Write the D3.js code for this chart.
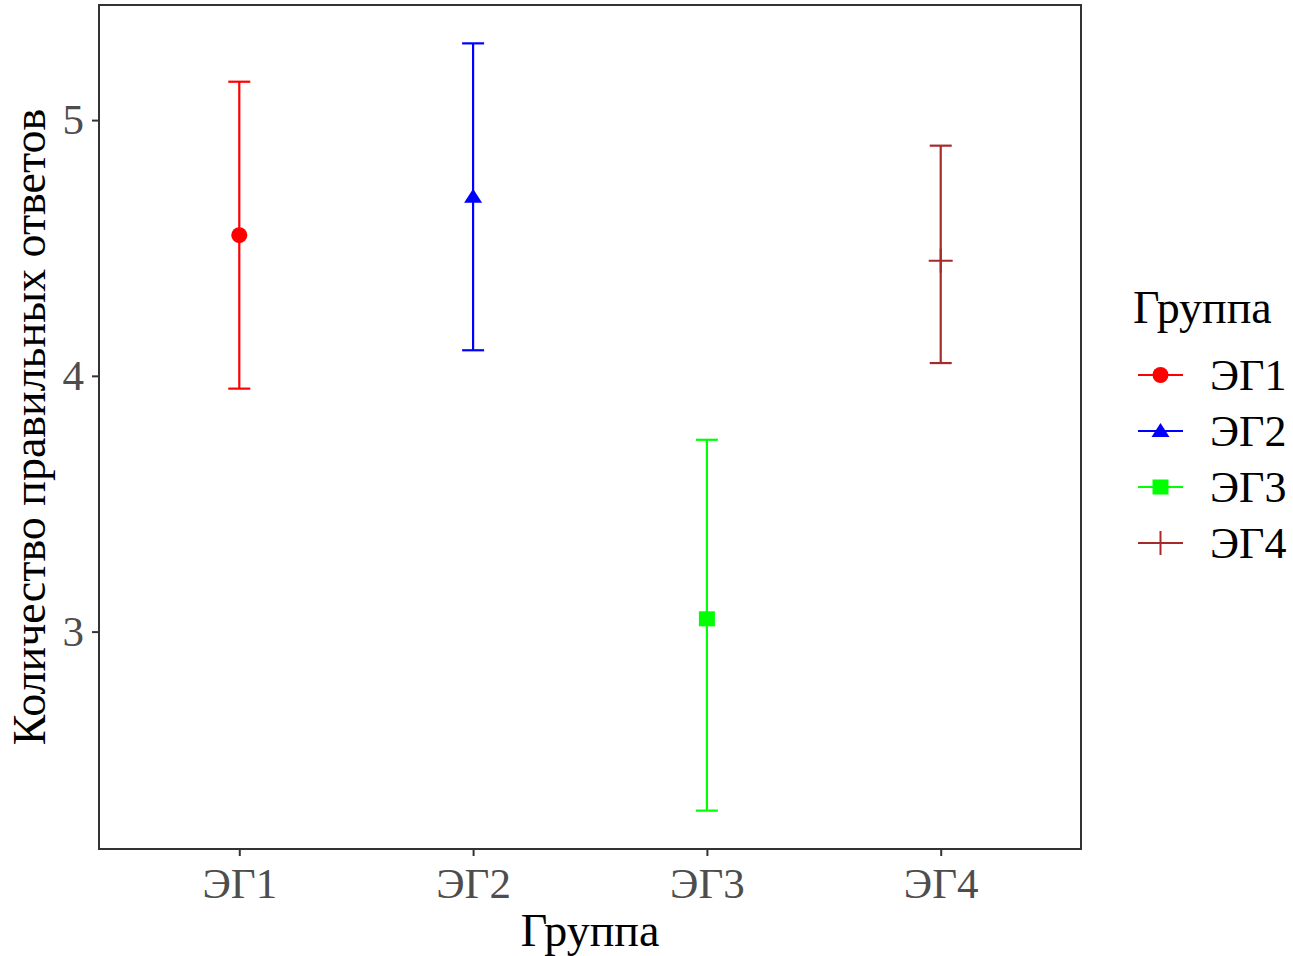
<!DOCTYPE html>
<html>
<head>
<meta charset="utf-8">
<script src="https://cdn.jsdelivr.net/npm/d3@7"></script>
<style>
  body { margin: 0; background: #fff; }
  svg text { font-family: "Liberation Serif", "Times New Roman", serif; }
</style>
</head>
<body>
<div id="wrapper"></div>
<script>
// data
const groups = ["ЭГ1", "ЭГ2", "ЭГ3", "ЭГ4"];
const means  = [4.55, 4.70, 3.05, 4.45];
const lowers = [3.95, 4.10, 2.30, 4.05];
const uppers = [5.15, 5.30, 3.75, 4.90];
const yTicks = [3, 4, 5];
const colors = ["#FF0000", "#0000FF", "#00FF00", "#A52A2A"];
const shapes = ["circle", "triangle", "square", "plus"];

const xTitle = "Группа";
const yTitle = "Количество правильных ответов";
const legendTitle = "Группа";

function drawChart() {
    const dimensions = {
        width: 1293,
        height: 956,
        margin: { top: 5, right: 212, bottom: 107, left: 99 },
    }
    dimensions.boundedWidth = dimensions.width - dimensions.margin.left - dimensions.margin.right
    dimensions.boundedHeight = dimensions.height - dimensions.margin.top - dimensions.margin.bottom

    const data = groups.map((g, i) => ({
        group: g, mean: means[i], lo: lowers[i], hi: uppers[i], color: colors[i], shape: shapes[i]
    }))

    const svg = d3.select("#wrapper").html("")
        .append("svg")
        .attr("width", dimensions.width)
        .attr("height", dimensions.height);

    const bounds = svg.append("g")
        .attr("transform", `translate(${dimensions.margin.left},${dimensions.margin.top})`);

    // ggplot-like 5% expansion of the range
    const lo = d3.min(lowers), hi = d3.max(uppers)
    const pad = (hi - lo) * 0.05
    const yScaler = d3.scaleLinear()
        .domain([lo - pad, hi + pad])
        .range([dimensions.boundedHeight, 0])

    const xScaler = d3.scalePoint()
        .domain(groups)
        .range([0, dimensions.boundedWidth])
        .padding(0.6)

    // axes
    const xAxis = bounds.append("g")
        .attr("transform", `translate(0,${dimensions.boundedHeight})`)
        .call(d3.axisBottom(xScaler).tickSize(7).tickPadding(11))
    const yAxis = bounds.append("g")
        .call(d3.axisLeft(yScaler).tickValues(yTicks).tickFormat(d3.format("d")).tickSize(7).tickPadding(8))

    for (const ax of [xAxis, yAxis]) {
        ax.select(".domain").remove()
        ax.selectAll(".tick line").attr("stroke", "#333").attr("stroke-width", 2)
        ax.selectAll(".tick text")
            .attr("fill", "#4d4d4d")
            .attr("font-size", "43px")
            .style("font-family", "'Liberation Serif', serif")
    }

    // panel border
    bounds.append("rect")
        .attr("width", dimensions.boundedWidth)
        .attr("height", dimensions.boundedHeight)
        .attr("fill", "none")
        .attr("stroke", "#333")
        .attr("stroke-width", 2)

    // error bars
    const capW = 11
    const bars = bounds.append("g").selectAll("g")
        .data(data)
        .join("g")
        .attr("stroke", d => d.color)
        .attr("stroke-width", 2.2)

    bars.append("line")
        .attr("x1", d => xScaler(d.group)).attr("x2", d => xScaler(d.group))
        .attr("y1", d => yScaler(d.lo)).attr("y2", d => yScaler(d.hi))
    bars.append("line")
        .attr("x1", d => xScaler(d.group) - capW).attr("x2", d => xScaler(d.group) + capW)
        .attr("y1", d => yScaler(d.hi)).attr("y2", d => yScaler(d.hi))
    bars.append("line")
        .attr("x1", d => xScaler(d.group) - capW).attr("x2", d => xScaler(d.group) + capW)
        .attr("y1", d => yScaler(d.lo)).attr("y2", d => yScaler(d.lo))

    function drawShape(g, shape, color, cx, cy) {
        if (shape == "circle") {
            g.append("circle").attr("cx", cx).attr("cy", cy).attr("r", 8).attr("fill", color)
        } else if (shape == "triangle") {
            g.append("path")
                .attr("d", `M${cx},${cy - 8}L${cx + 9},${cy + 6}L${cx - 9},${cy + 6}Z`)
                .attr("fill", color)
        } else if (shape == "square") {
            g.append("rect").attr("x", cx - 8).attr("y", cy - 7.5)
                .attr("width", 16).attr("height", 15).attr("fill", color)
        } else {
            g.append("path")
                .attr("d", `M${cx - 12},${cy}H${cx + 12}M${cx},${cy - 12}V${cy + 12}`)
                .attr("stroke", color).attr("stroke-width", 2).attr("fill", "none")
        }
    }

    const points = bounds.append("g")
    data.forEach(d => drawShape(points, d.shape, d.color, xScaler(d.group), yScaler(d.mean)))

    // axis titles
    svg.append("text")
        .attr("x", dimensions.margin.left + dimensions.boundedWidth / 2)
        .attr("y", 946)
        .attr("text-anchor", "middle")
        .attr("font-size", "46px")
        .attr("fill", "black")
        .text(xTitle)

    svg.append("text")
        .attr("transform", `translate(45,${dimensions.margin.top + dimensions.boundedHeight / 2}) rotate(-90)`)
        .attr("text-anchor", "middle")
        .attr("font-size", "46px")
        .attr("fill", "black")
        .text(yTitle)

    // legend
    const legend = svg.append("g").attr("transform", "translate(1133,0)")
    legend.append("text")
        .attr("x", 0).attr("y", 323)
        .attr("font-size", "46px")
        .attr("fill", "black")
        .text(legendTitle)

    const keyY = d3.scalePoint().domain(groups).range([375, 543])
    data.forEach(d => {
        const k = legend.append("g")
        const cy = keyY(d.group)
        k.append("line")
            .attr("x1", 5).attr("x2", 50)
            .attr("y1", cy).attr("y2", cy)
            .attr("stroke", d.color).attr("stroke-width", 2)
        drawShape(k, d.shape, d.color, 27.5, cy)
        k.append("text")
            .attr("x", 77).attr("y", cy + 15)
            .attr("font-size", "44px")
            .attr("fill", "black")
            .text(d.group)
    })
}

drawChart();
</script>
</body>
</html>
